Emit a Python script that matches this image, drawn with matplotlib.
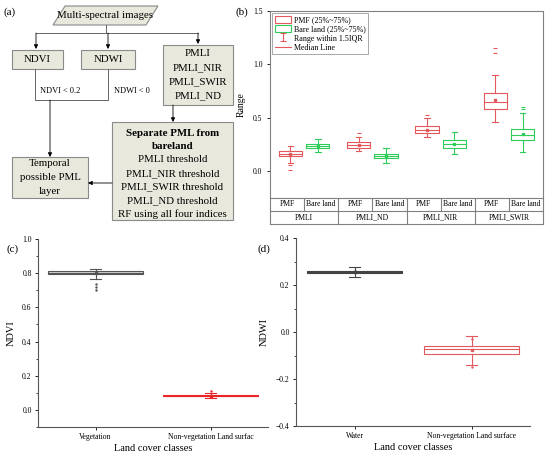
import numpy as np
import matplotlib
matplotlib.use('Agg')
import matplotlib.pyplot as plt
import matplotlib.patches as mpatches
from matplotlib.ticker import MultipleLocator

plt.rcParams['font.family'] = ['Liberation Serif', 'DejaVu Serif']

# ---------- data ----------
# (b) box statistics
b_groups = ['PMLI', 'PMLI_ND', 'PMLI_NIR', 'PMLI_SWIR']
b_sub = ['PMF', 'Bare land']
pmf_q1 = [0.14, 0.22, 0.36, 0.58]
pmf_med = [0.165, 0.245, 0.39, 0.645]
pmf_q3 = [0.19, 0.27, 0.42, 0.73]
pmf_lo = [0.08, 0.19, 0.32, 0.46]
pmf_hi = [0.24, 0.32, 0.50, 0.90]
pmf_mean = [0.165, 0.245, 0.39, 0.665]
pmf_fliers = [[0.06, 0.01], [0.36], [0.53], [1.11, 1.15]]

bare_q1 = [0.22, 0.12, 0.22, 0.29]
bare_med = [0.24, 0.14, 0.255, 0.34]
bare_q3 = [0.26, 0.16, 0.29, 0.40]
bare_lo = [0.18, 0.08, 0.16, 0.18]
bare_hi = [0.30, 0.22, 0.37, 0.55]
bare_mean = [0.24, 0.14, 0.255, 0.35]
bare_fliers = [[], [], [], [0.58, 0.60]]

# (c) NDVI
c_classes = ['Vegetation', 'Non-vegetation Land surfac']
c_q1 = [0.793, 0.080]
c_med = [0.800, 0.083]
c_q3 = [0.810, 0.086]
c_lo = [0.765, 0.072]
c_hi = [0.825, 0.098]
c_mean = [0.800, 0.083]
c_fliers = [[0.735, 0.72, 0.70], [0.11]]

# (d) NDWI
d_classes = ['Water', 'Non-vegetation Land surface']
d_q1 = [0.250, -0.094]
d_med = [0.255, -0.072]
d_q3 = [0.261, -0.058]
d_lo = [0.236, -0.140]
d_hi = [0.275, -0.017]
d_mean = [0.255, -0.075]
d_fliers = [[0.26], [-0.15, -0.03]]

# (a) flowchart text
sep_lines = ['Separate PML from', 'bareland', 'PMLI threshold', 'PMLI_NIR threshold',
             'PMLI_SWIR threshold', 'PMLI_ND threshold', 'RF using all four indices']

W, H = 550, 462
fig = plt.figure(figsize=(W / 100, H / 100), dpi=100)


def rect(l, t, r, b):
    return [l / W, 1 - b / H, (r - l) / W, (b - t) / H]


def stats(q1, med, q3, lo, hi, mean, fl):
    return [dict(q1=a, med=m, q3=c, whislo=d, whishi=e, mean=f, fliers=g)
            for a, m, c, d, e, f, g in zip(q1, med, q3, lo, hi, mean, fl)]


# ---------- (a) flowchart, in pixel coords ----------
ax0 = fig.add_axes([0, 0, 1, 1])
ax0.set_xlim(0, W)
ax0.set_ylim(H, 0)
ax0.axis('off')

fill = '#e8e8dc'
edge = '#8a8a8a'
lc = '#666666'
fs = 7.8

ax0.add_patch(mpatches.Polygon([[53, 25], [65, 6], [158, 6], [146, 25]],
                               closed=True, fc=fill, ec=edge, lw=0.8))
ax0.text(105, 16, 'Multi-spectral images', ha='center', va='center', fontsize=fs)

boxes = [
    (12, 50, 63, 69, ['NDVI']),
    (81, 50, 135, 69, ['NDWI']),
    (163, 45, 233, 105, ['PMLI', 'PMLI_NIR', 'PMLI_SWIR', 'PMLI_ND']),
    (12, 157, 88, 198, ['Temporal', 'possible PML', 'layer']),
]
for l, t, r, b, lines in boxes:
    ax0.add_patch(mpatches.Rectangle((l, t), r - l, b - t, fc=fill, ec=edge, lw=0.8))
    y0 = (t + b) / 2 - 7 * (len(lines) - 1)
    for k, s in enumerate(lines):
        ax0.text((l + r) / 2, y0 + 14 * k, s, ha='center', va='center', fontsize=fs)

ax0.add_patch(mpatches.Rectangle((112, 122), 121, 98, fc=fill, ec=edge, lw=0.8))
for k, s in enumerate(sep_lines):
    ax0.text(172.5, 133 + 13.5 * k, s, ha='center', va='center', fontsize=fs,
             fontweight='bold' if k < 2 else 'normal')

ap = dict(arrowstyle='-|>', color='k', lw=0.6, mutation_scale=6, shrinkA=0, shrinkB=0)
ax0.plot([106, 106], [25, 33], color=lc, lw=0.7)
ax0.plot([36, 198], [33, 33], color=lc, lw=0.7)
for xx in (36, 108, 198):
    ax0.annotate('', xy=(xx, 49 if xx != 198 else 44), xytext=(xx, 33), arrowprops=ap)
ax0.plot([35, 35, 108, 108], [69, 100, 100, 69], color=lc, lw=0.7)
ax0.annotate('', xy=(50, 157), xytext=(50, 100), arrowprops=ap)
ax0.annotate('', xy=(173, 122), xytext=(173, 105), arrowprops=ap)
ax0.annotate('', xy=(88, 183), xytext=(112, 183), arrowprops=ap)
ax0.text(40, 91, 'NDVI < 0.2', fontsize=6, va='center')
ax0.text(114, 91, 'NDWI < 0', fontsize=6, va='center')

# ---------- (b) ----------
red = '#e3585c'
green = '#2fcc5a'
axb = fig.add_axes(rect(270, 11, 543, 198))
grp = np.arange(len(b_groups)) + 0.5
for st, pos, col in [(stats(pmf_q1, pmf_med, pmf_q3, pmf_lo, pmf_hi, pmf_mean, pmf_fliers), grp - 0.2, red),
                     (stats(bare_q1, bare_med, bare_q3, bare_lo, bare_hi, bare_mean, bare_fliers), grp + 0.2, green)]:
    axb.bxp(st, positions=pos, widths=0.34, showmeans=True, capwidths=0.08,
            boxprops=dict(color=col, lw=0.8), medianprops=dict(color=col, lw=0.8),
            whiskerprops=dict(color=col, lw=0.8), capprops=dict(color=col, lw=0.8),
            meanprops=dict(marker='s', ms=1.8, mfc=col, mec=col),
            flierprops=dict(marker='_', ms=3, mec=col, mew=0.8))
axb.set_xlim(0, 4)
axb.set_ylim(-0.25, 1.5)
axb.set_xticks([])
axb.yaxis.set_major_locator(MultipleLocator(0.5))
axb.tick_params(axis='y', labelsize=5.5, direction='out', length=2, width=0.6)
axb.set_ylabel('Range', fontsize=7, labelpad=5)
for sp in axb.spines.values():
    sp.set_color('#808080')
    sp.set_linewidth(0.8)

# table under (b)
tr = axb.get_xaxis_transform()
rh = 13 / 187
for yy in (-rh, -2 * rh):
    axb.plot([0, 4], [yy, yy], color='#808080', lw=0.8, transform=tr, clip_on=False)
for i, g in enumerate(b_groups):
    axb.plot([i, i], [0, -2 * rh], color='#808080', lw=0.8, transform=tr, clip_on=False)
    axb.plot([i + 0.5, i + 0.5], [0, -rh], color='#808080', lw=0.8, transform=tr, clip_on=False)
    axb.text(i + 0.5, -1.5 * rh, g, transform=tr, ha='center', va='center', fontsize=5.5)
    for j, s in enumerate(b_sub):
        axb.text(i + 0.25 + 0.5 * j, -0.5 * rh, s, transform=tr, ha='center', va='center', fontsize=5.5)
axb.plot([4, 4], [0, -2 * rh], color='#808080', lw=0.8, transform=tr, clip_on=False)

eb = axb.errorbar([np.nan], [np.nan], yerr=[1], fmt='none', ecolor=red, elinewidth=0.8,
                  capsize=2, capthick=0.8)
handles = [mpatches.Patch(fc='white', ec=red, lw=0.8),
           mpatches.Patch(fc='white', ec=green, lw=0.8),
           eb,
           plt.Line2D([], [], color=red, lw=0.8)]
labels = ['PMF (25%~75%)', 'Bare land (25%~75%)', 'Range within 1.5IQR', 'Median Line']
leg = axb.legend(handles, labels, loc='upper left', fontsize=5.8, frameon=True, fancybox=False,
                 edgecolor='#808080', borderaxespad=0.3, handlelength=2.0, handleheight=1.0,
                 labelspacing=0.1, borderpad=0.3, handletextpad=0.4)
leg.get_frame().set_linewidth(0.6)


def cat_panel(ax, st, cols, fcs, classes, ylim, ylabel):
    for k in range(len(st)):
        ax.bxp([st[k]], positions=[k + 1], widths=0.82, showmeans=True, capwidths=0.09,
               patch_artist=True,
               boxprops=dict(facecolor=fcs[k], edgecolor=cols[k], lw=0.8),
               medianprops=dict(color=cols[k], lw=0.8),
               whiskerprops=dict(color=cols[k], lw=0.8), capprops=dict(color=cols[k], lw=0.8),
               meanprops=dict(marker='s', ms=1.8, mfc=cols[k], mec=cols[k]),
               flierprops=dict(marker='.', ms=1.5, mfc=cols[k], mec=cols[k]))
    ax.set_xlim(0.5, 2.5)
    ax.set_ylim(*ylim)
    ax.set_xticks([1, 2])
    ax.set_xticklabels(classes, fontsize=5.5)
    ax.yaxis.set_major_locator(MultipleLocator(0.2))
    ax.yaxis.set_minor_locator(MultipleLocator(0.1))
    ax.tick_params(labelsize=5.5, direction='out', length=2.5, width=0.6, pad=2)
    ax.tick_params(which='minor', direction='out', length=1.5, width=0.5)
    ax.spines['top'].set_visible(False)
    ax.spines['right'].set_visible(False)
    for sp in ('left', 'bottom'):
        ax.spines[sp].set_color('#555555')
        ax.spines[sp].set_linewidth(0.8)
    ax.set_xlabel('Land cover classes', fontsize=7.5, labelpad=2)
    ax.set_ylabel(ylabel, fontsize=7.5, labelpad=5)


# ---------- (c) ----------
axc = fig.add_axes(rect(38, 239, 268, 427))
cat_panel(axc, stats(c_q1, c_med, c_q3, c_lo, c_hi, c_mean, c_fliers),
          ['#555555', '#e8262a'], ['#d6d6d6', '#f08080'], c_classes, (-0.1, 1.0), 'NDVI')

# ---------- (d) ----------
axd = fig.add_axes(rect(296, 238, 530, 426))
cat_panel(axd, stats(d_q1, d_med, d_q3, d_lo, d_hi, d_mean, d_fliers),
          ['#444444', '#e3585c'], ['#9a9a9a', 'white'], d_classes, (-0.4, 0.4), 'NDWI')

# panel letters on top of everything
for s, x, y in [('(a)', 4, 12), ('(b)', 236, 12), ('(c)', 6, 249), ('(d)', 258, 249)]:
    fig.text(x / W, 1 - y / H, s, fontsize=8, va='center')

fig.savefig('out.png', dpi=100)
